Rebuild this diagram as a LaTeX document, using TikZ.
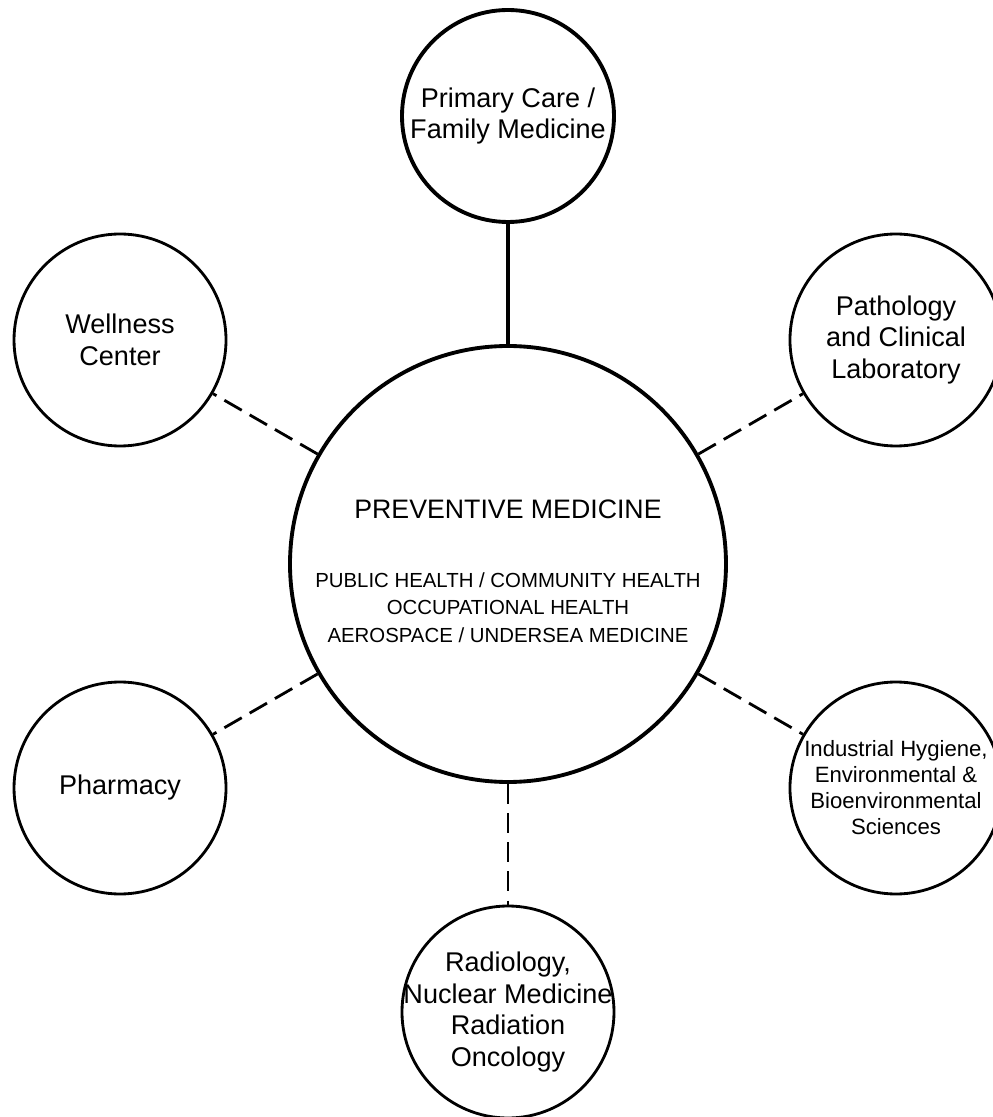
\documentclass[tikz,border=0pt]{standalone}
\usepackage{fontspec}
\setmainfont{Liberation Sans}
\begin{document}
\begin{tikzpicture}[
    field/.style={circle, draw, line width=0.8pt, minimum size=2.12cm,
      inner sep=-8pt, align=center, font=\fontsize{7.7}{9}\selectfont},
    hub/.style={circle, draw, line width=1.1pt, minimum size=4.36cm,
      inner sep=0pt, align=center, font=\fontsize{5.8}{7.8}\selectfont},
    link/.style={line width=0.8pt, dash pattern=on 5.7pt off 2.6pt},
  ]
  \useasboundingbox (-5.08,-5.53) rectangle (4.85,5.64);
  \draw
    (0:0) node[hub] (prev){\rule{0pt}{9.4pt}{\fontsize{7.6}{9}\selectfont PREVENTIVE MEDICINE}\\[11.8pt]
      PUBLIC HEALTH / COMMUNITY HEALTH\\
      OCCUPATIONAL HEALTH\\
      AEROSPACE / UNDERSEA MEDICINE}
    (90:4.48) node[field, line width=1.1pt] (primary){Primary Care /\\Family Medicine}
    (30:4.48) node[field] (patho){Pathology\\and Clinical\\Laboratory}
    (-30:4.48) node[field, font=\fontsize{6.3}{7.4}\selectfont] (indhyg){Industrial Hygiene,\\Environmental \&\\Bioenvironmental\\Sciences}
    (-90:4.48) node[field] (radio){Radiology,\\Nuclear Medicine\\Radiation\\Oncology}
    (210:4.48) node[field] (pharm){Pharmacy}
    (150:4.48) node[field] (well){Wellness\\Center};
  \draw[line width=1.2pt] (prev) to (primary);
  \begin{scope}[link]
    \draw (prev) to (patho);
    \draw (prev) to (indhyg);
    \draw (prev) to (radio);
    \draw (prev) to (pharm);
    \draw (prev) to (well);
  \end{scope}
\end{tikzpicture}
\end{document}
